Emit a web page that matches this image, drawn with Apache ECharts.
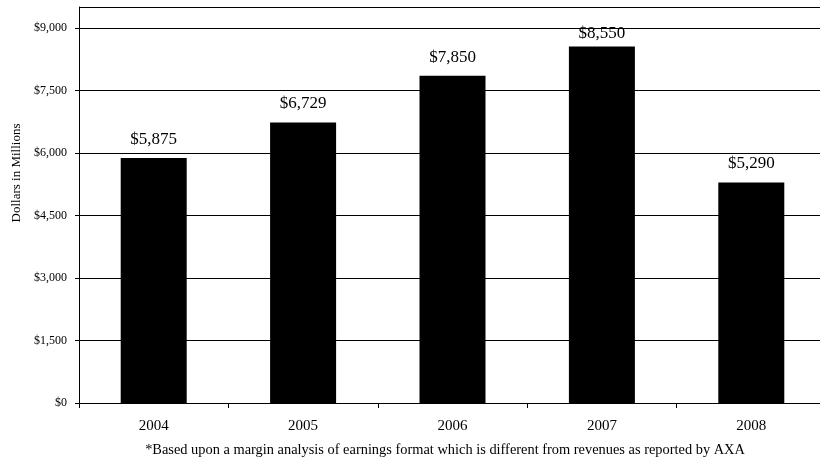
<!DOCTYPE html>
<html>
<head>
<meta charset="utf-8">
<script src="https://cdn.jsdelivr.net/npm/echarts@6/dist/echarts.min.js"></script>
<style>
html,body{margin:0;padding:0;background:#fff;}
#c{width:820px;height:460px;}
</style>
</head>
<body>
<div id="c"></div>
<script>
const years = ['2004', '2005', '2006', '2007', '2008'];
const earnings = [5875, 6729, 7850, 8550, 5290];
const yTicks = [0, 1500, 3000, 4500, 6000, 7500, 9000];
const yAxisTitle = 'Dollars in Millions';
const footnote = '*Based upon a margin analysis of earnings format which is different from revenues as reported by AXA';

const FONT = '"Liberation Serif", "Times New Roman", serif';
function money(v) {
  return '$' + Math.round(v).toLocaleString('en-US');
}

const chart = echarts.init(document.getElementById('c'), null, {renderer: 'canvas'});
const yMax = 9500;
chart.setOption({
  animation: false,
  backgroundColor: '#ffffff',
  textStyle: {fontFamily: FONT, color: '#000'},
  grid: {left: 79, right: -6, top: 7, bottom: 57, containLabel: false, outerBoundsMode: 'none'},
  title: {
    text: footnote,
    left: 440,
    textAlign: 'center',
    top: 438,
    textStyle: {fontFamily: FONT, fontSize: 14.4, fontWeight: 'normal', color: '#000'}
  },
  xAxis: {
    type: 'category',
    data: years,
    boundaryGap: true,
    axisLine: {show: true, lineStyle: {color: '#000', width: 1}},
    axisTick: {show: true, length: 5, alignWithLabel: false, lineStyle: {color: '#000'}},
    axisLabel: {fontFamily: FONT, fontSize: 15, color: '#000', margin: 16},
    splitLine: {show: false}
  },
  yAxis: {
    type: 'value',
    min: yTicks[0],
    max: yMax,
    interval: yTicks[1] - yTicks[0],
    name: yAxisTitle,
    nameLocation: 'middle',
    nameRotate: 90,
    nameGap: 54,
    nameTextStyle: {fontFamily: FONT, fontSize: 13, color: '#000', padding: [0, 0, 0, 64]},
    axisLine: {show: true, lineStyle: {color: '#000', width: 1}},
    axisTick: {show: true, length: 4, inside: false, lineStyle: {color: '#000'}},
    axisLabel: {
      fontFamily: FONT, fontSize: 12, color: '#000', margin: 12,
      showMaxLabel: false,
      formatter: function (v) { return yTicks.indexOf(v) >= 0 ? money(v) : ''; }
    },
    splitLine: {show: true, lineStyle: {color: '#000', width: 1}}
  },
  series: [{
    type: 'bar',
    barWidth: 66,
    data: earnings.map(function (v, i) {
      const item = {value: v};
      if (i === 3) item.label = {distance: 5};
      return item;
    }),
    itemStyle: {color: '#000'},
    label: {
      show: true,
      position: 'top',
      distance: 10,
      fontFamily: FONT,
      fontSize: 17,
      color: '#000',
      formatter: function (p) { return money(p.value); }
    }
  }]
});
</script>
</body>
</html>
